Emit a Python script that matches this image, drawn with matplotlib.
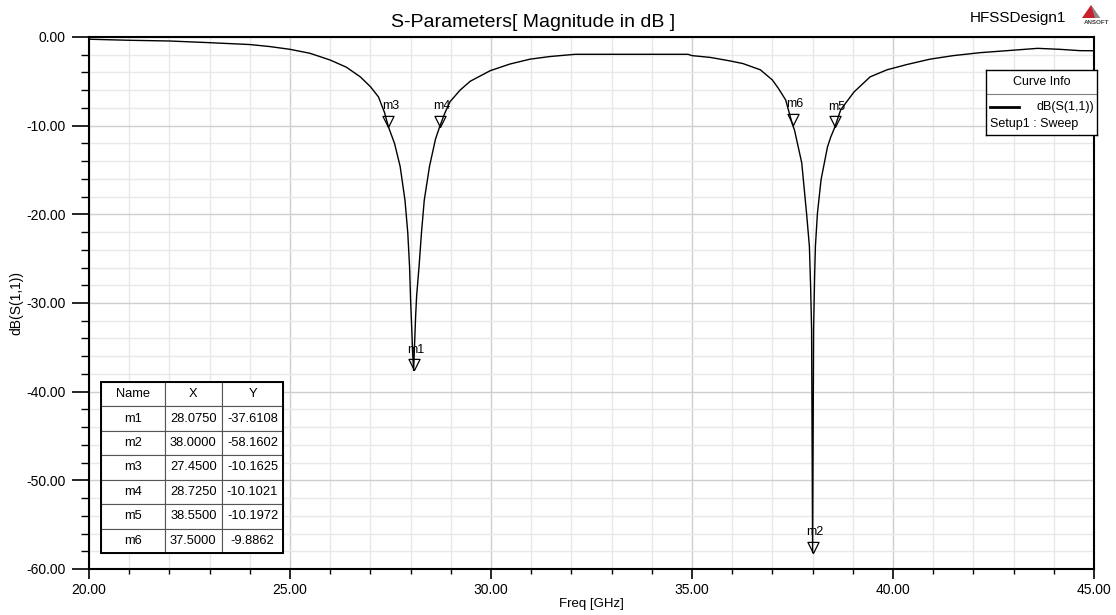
import matplotlib

matplotlib.use("Agg")
import matplotlib.pyplot as plt
from matplotlib.patches import Polygon, Rectangle
from matplotlib.path import Path
from matplotlib.ticker import FormatStrFormatter, MultipleLocator

plt.rcParams["font.family"] = ["Liberation Sans", "DejaVu Sans"]

# dB(S(1,1)) (GHz, dB)
freq_ghz = [
    20.0, 21.0, 22.0, 23.0, 24.0, 24.5, 25.0, 25.5, 26.0, 26.4, 26.75, 27.0,
    27.2, 27.35, 27.45, 27.6, 27.74, 27.86, 27.93, 27.975, 28.0, 28.025,
    28.05, 28.075, 28.1, 28.125, 28.15, 28.21, 28.27, 28.34, 28.47, 28.62,
    28.725, 28.85, 28.98, 29.23, 29.48, 29.98, 30.47, 30.97, 31.47, 32.1,
    33.0, 34.0, 34.9, 35.0, 35.45, 35.95, 36.27, 36.7, 37.0, 37.15, 37.33,
    37.5, 37.55, 37.73, 37.85, 37.92, 37.95, 37.975, 38.0, 38.025, 38.05,
    38.07, 38.12, 38.21, 38.37, 38.45, 38.55, 38.7, 39.03, 39.43, 39.85,
    40.35, 40.92, 41.5, 42.16, 42.84, 43.6, 44.15, 44.65, 45.0,
]
s11_db = [
    -0.25, -0.37, -0.45, -0.64, -0.85, -1.08, -1.39, -1.84, -2.6, -3.4,
    -4.5, -5.6, -6.75, -8.5, -10.16, -12.0, -14.6, -18.4, -22.1, -26.0,
    -29.7, -32.5, -35.5, -37.61, -34.5, -31.5, -29.2, -25.9, -22.1, -18.4,
    -14.6, -11.5, -10.1, -8.6, -7.3, -6.0, -5.0, -3.8, -3.05, -2.5, -2.2,
    -1.95, -1.95, -1.95, -1.95, -2.1, -2.3, -2.7, -3.0, -3.7, -4.85, -5.8,
    -7.1, -9.89, -10.5, -14.2, -19.9, -23.6, -28.0, -33.0, -58.16, -33.0,
    -27.0, -23.6, -19.9, -16.1, -12.4, -11.3, -10.2, -8.2, -6.2, -4.5, -3.7,
    -3.1, -2.5, -2.1, -1.77, -1.54, -1.28, -1.39, -1.54, -1.55,
]

marker_names = ["m1", "m2", "m3", "m4", "m5", "m6"]
marker_freq = [28.075, 38.0, 27.45, 28.725, 38.55, 37.5]
marker_db = [-37.6108, -58.1602, -10.1625, -10.1021, -10.1972, -9.8862]

W, H = 1116, 615
fig = plt.figure(figsize=(W / 100, H / 100), dpi=100)
ax = fig.add_axes([89 / W, 1 - 569 / H, 1005 / W, 532 / H])

ax.plot(freq_ghz, s11_db, color="black", lw=1.0, zorder=3)

# HFSS style marker: hollow triangle with its tip on the point
tip_down = Path([(-0.5, 1.0), (0.5, 1.0), (0.0, 0.0), (-0.5, 1.0)],
                [Path.MOVETO, Path.LINETO, Path.LINETO, Path.CLOSEPOLY])
ax.plot(marker_freq, marker_db, ls="none", marker=tip_down, ms=16,
        mfc="none", mec="black", mew=0.9, zorder=4)
for name, f, d in zip(marker_names, marker_freq, marker_db):
    ax.annotate(name, (f, d), xytext=(1.5, 15), textcoords="offset points",
                ha="center", va="center", fontsize=9, zorder=5)

ax.set_xlim(20, 45)
ax.set_ylim(-60, 0)
ax.xaxis.set_major_locator(MultipleLocator(5))
ax.xaxis.set_minor_locator(MultipleLocator(1))
ax.yaxis.set_major_locator(MultipleLocator(10))
ax.yaxis.set_minor_locator(MultipleLocator(2))
ax.xaxis.set_major_formatter(FormatStrFormatter("%.2f"))
ax.yaxis.set_major_formatter(FormatStrFormatter("%.2f"))
ax.tick_params(axis="x", which="major", direction="out", length=7, width=1.2,
               pad=3, labelsize=10)
ax.tick_params(axis="x", which="minor", direction="out", length=3.6, width=1.0)
ax.tick_params(axis="y", which="major", direction="out", length=12, width=1.2,
               pad=5, labelsize=10)
ax.tick_params(axis="y", which="minor", direction="out", length=6, width=1.0)
ax.grid(which="major", color="#cfcfcf", lw=1.0)
ax.grid(which="minor", color="#e8e8e8", lw=1.0)
ax.set_axisbelow(True)
for sp in ax.spines.values():
    sp.set_color("black")
    sp.set_linewidth(1.5)

ax.set_xlabel("Freq [GHz]", fontsize=9.5, labelpad=1)
ax.set_ylabel("dB(S(1,1))", fontsize=10)
ax.yaxis.set_label_coords(-0.065, 0.5)

# marker table, bottom left
cell_text = [[n, f"{f:.4f}", f"{d:.4f}"]
             for n, f, d in zip(marker_names, marker_freq, marker_db)]
tbl_box = [12 / 1005, 16 / 532, 182 / 1005, 171 / 532]
tbl = ax.table(cellText=cell_text, colLabels=["Name", "X", "Y"],
               cellLoc="center", colWidths=[0.35, 0.315, 0.335], bbox=tbl_box)
tbl.auto_set_font_size(False)
tbl.set_fontsize(9.3)
tbl.set_zorder(6)
for cell in tbl.get_celld().values():
    cell.set_edgecolor("#555555")
    cell.set_linewidth(0.8)
    cell.set_facecolor("white")
ax.add_patch(Rectangle((tbl_box[0], tbl_box[1]), tbl_box[2], tbl_box[3],
                       transform=ax.transAxes, fill=False, ec="black",
                       lw=1.4, zorder=7))

# Curve Info box
lax = fig.add_axes([986 / W, 1 - 135 / H, 111 / W, 65 / H])
lax.set_xlim(0, 1)
lax.set_ylim(0, 1)
lax.set_xticks([])
lax.set_yticks([])
for sp in lax.spines.values():
    sp.set_linewidth(1.0)
lax.axhline(0.63, color="#808080", lw=0.8)
lax.text(0.5, 0.815, "Curve Info", ha="center", va="center", fontsize=9)
lax.plot([0.04, 0.3], [0.435, 0.435], color="black", lw=2)
lax.text(0.97, 0.435, "dB(S(1,1))", ha="right", va="center", fontsize=9)
lax.text(0.04, 0.17, "Setup1 : Sweep", ha="left", va="center", fontsize=9)

fig.text(533 / W, 1 - 26.7 / H, "S-Parameters[ Magnitude in dB ]",
         ha="center", va="baseline", fontsize=14)
fig.text(1018 / W, 1 - 21.7 / H, "HFSSDesign1", ha="center", va="baseline",
         fontsize=11)

# little Ansoft logo
fig.patches.append(Polygon([[1082 / W, 1 - 18 / H], [1091 / W, 1 - 5 / H],
                            [1100 / W, 1 - 18 / H]], closed=True,
                           transform=fig.transFigure, fc="#c8202f", ec="none"))
fig.patches.append(Polygon([[1091 / W, 1 - 5 / H], [1100 / W, 1 - 18 / H],
                            [1095 / W, 1 - 18 / H]], closed=True,
                           transform=fig.transFigure, fc="#8a8a8a", ec="none"))
fig.text(1097 / W, 1 - 23 / H, "ANSOFT", ha="center", va="center",
         fontsize=4.5, weight="bold", color="#404040")

fig.savefig("out.png", dpi=100)
